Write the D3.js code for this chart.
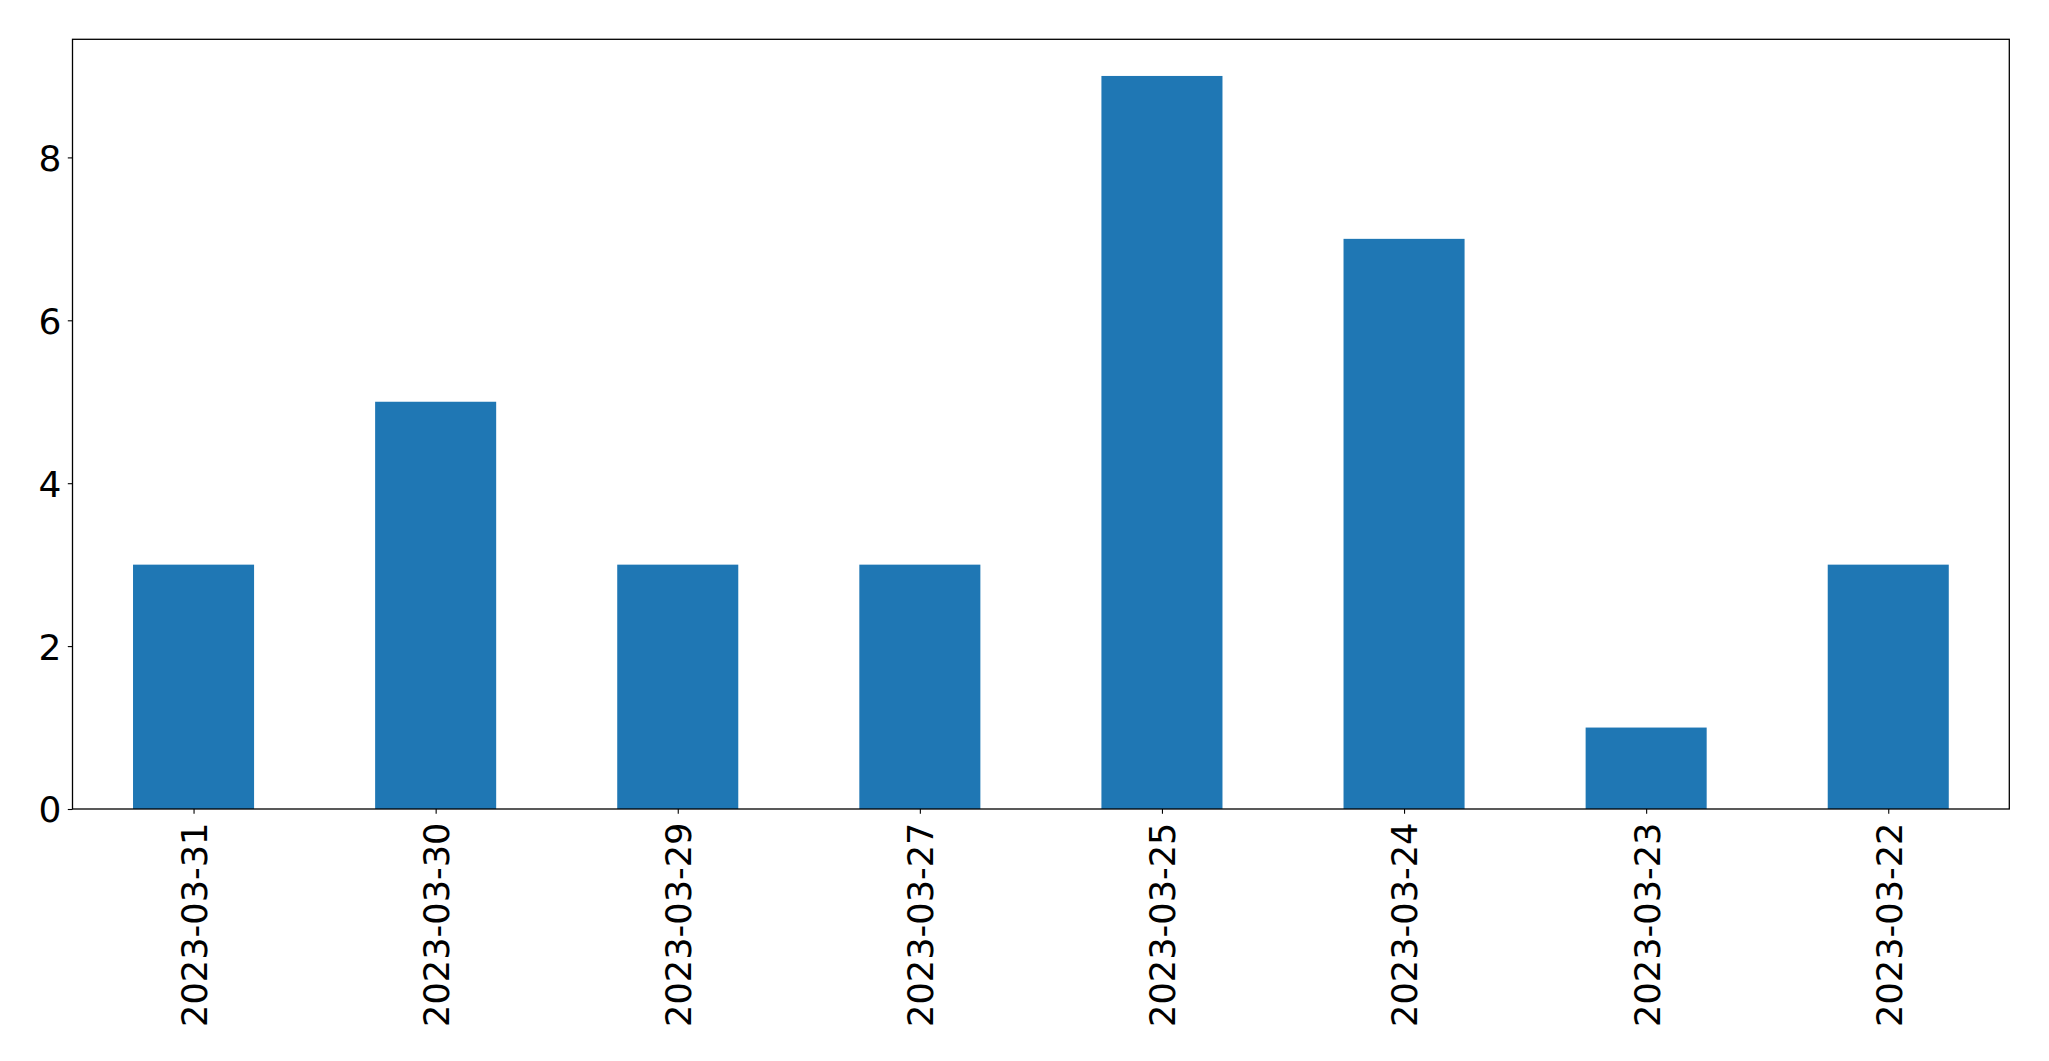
<!DOCTYPE html>
<html><head><meta charset="utf-8">
<script src="https://cdn.jsdelivr.net/npm/d3@7"></script>
<style>html,body{margin:0;padding:0;background:#fff;}svg{display:block;}</style>
</head><body>
<svg id="c" width="2049" height="1061"></svg>
<script>
const categories = ["2023-03-31","2023-03-30","2023-03-29","2023-03-27","2023-03-25","2023-03-24","2023-03-23","2023-03-22"];
const values = [3,5,3,3,9,7,1,3];
const yTicks = [0,2,4,6,8];

const m = {left:72.5, right:2009.3, top:39.3, bottom:809};
const svg = d3.select("#c");
const font = "DejaVu Sans, sans-serif";
const fsX = 35.2, fsY = 36;

const x = d3.scaleLinear().domain([-0.5, categories.length - 0.5]).range([m.left, m.right]);
const y = d3.scaleLinear().domain([0, d3.max(values) * 1.05]).range([m.bottom, m.top]);
const bw = 0.5;

svg.append("g").selectAll("rect").data(values).join("rect")
  .attr("x", (d,i) => x(i - bw/2))
  .attr("width", (d,i) => x(i + bw/2) - x(i - bw/2))
  .attr("y", d => y(d))
  .attr("height", d => y(0) - y(d))
  .attr("fill", "#1f77b4");

svg.append("rect").attr("x", m.left).attr("y", m.top)
  .attr("width", m.right - m.left).attr("height", m.bottom - m.top)
  .attr("fill", "none").attr("stroke", "#000").attr("stroke-width", 1.3);

const yAxis = d3.axisLeft(y).tickValues(yTicks).tickSize(4.7).tickPadding(6.5).tickFormat(d3.format("d"));
const gy = svg.append("g").attr("transform", `translate(${m.left},0)`).call(yAxis);
gy.select(".domain").remove();
gy.selectAll("line").attr("stroke", "#000").attr("stroke-width", 1.1);
gy.selectAll("text").attr("font-family", font).attr("font-size", fsY).attr("fill", "#000").attr("dy", "0.36em");

const xAxis = d3.axisBottom(x).tickValues(d3.range(categories.length)).tickSize(4.7).tickFormat(i => categories[i]);
const gx = svg.append("g").attr("transform", `translate(0,${m.bottom})`).call(xAxis);
gx.select(".domain").remove();
gx.selectAll("line").attr("stroke", "#000").attr("stroke-width", 1.1);
gx.selectAll("text")
  .attr("font-family", font).attr("font-size", fsX).attr("fill", "#000")
  .attr("text-anchor", "end")
  .attr("transform", "translate(0,13.5) rotate(-90)")
  .attr("x", 0).attr("y", 0).attr("dy", "0.365em");
</script>
</body></html>
